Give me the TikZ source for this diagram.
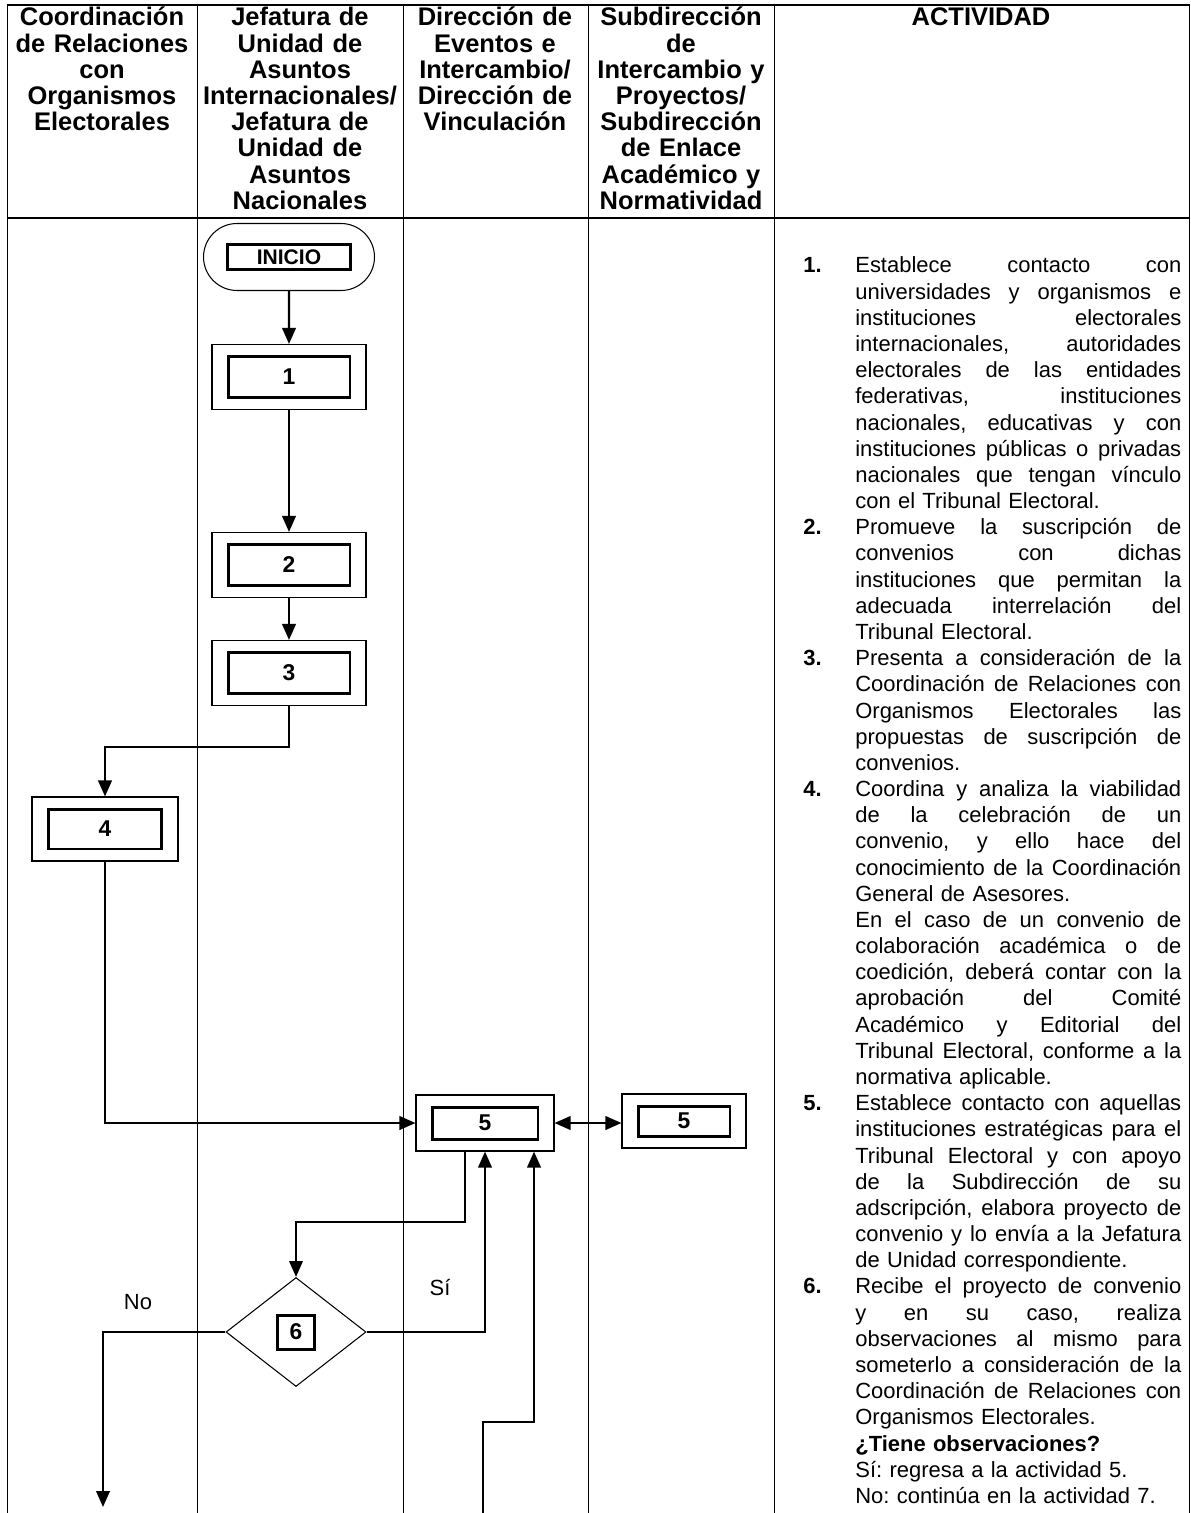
\documentclass[tikz,border=0pt]{standalone}
\usepackage{fontspec}
\setmainfont{Liberation Sans}
\usetikzlibrary{arrows.meta,positioning,calc,shapes.geometric,shapes.misc}

\newlength{\numw}\setlength{\numw}{1.04cm}
\newlength{\txtw}\setlength{\txtw}{6.52cm}
% spread the words of one line over the full text width
\def\sprx#1 #2\sprend{#1\if\relax\detokenize{#2}\relax\else\space\hfill\sprx#2\sprend\fi}
% numbered line, justified line, free (last) line
\newcommand{\actn}[2]{\makebox[\numw][l]{\textbf{#1}}\hbox to\txtw{\sprx#2 \sprend}\\}
\newcommand{\actj}[1]{\hspace*{\numw}\hbox to\txtw{\sprx#1 \sprend}\\}
\newcommand{\actf}[1]{\hspace*{\numw}#1\\}

\tikzset{
  lane/.style={line width=0.5pt},
  hrule/.style={line width=0.9pt},
  head/.style={align=center, text width=4.2cm, anchor=base, inner sep=0pt,
    font=\bfseries\fontsize{14.5}{14.9}\selectfont},
  flow/.style={line width=1.3pt, -{Triangle[length=0.32cm,width=0.27cm]}},
  flowboth/.style={line width=1.3pt, {Triangle[length=0.32cm,width=0.27cm]}-{Triangle[length=0.32cm,width=0.27cm]}},
  frame in/.style 2 args={path picture={
    \draw[line width=1.7pt] ([shift={(#1,#2)}]path picture bounding box.south west)
      rectangle ([shift={(-#1,-#2)}]path picture bounding box.north east);}},
  actbox/.style={shape=rectangle, draw=black, line width=0.6pt, inner sep=0pt,
    minimum width=3.08cm, minimum height=1.30cm, frame in={0.32cm}{0.24cm},
    font=\bfseries\fontsize{13}{14}\selectfont},
  start/.style={shape=rounded rectangle, draw=black, line width=0.6pt, inner sep=0pt,
    minimum width=3.42cm, minimum height=1.34cm, frame in={0.48cm}{0.42cm},
    font=\bfseries\fontsize{12}{13}\selectfont},
  decision/.style={shape=diamond, draw=black, line width=0.6pt, inner sep=0pt,
    minimum width=2.8cm, minimum height=2.18cm,
    font=\bfseries\fontsize{13}{14}\selectfont,
    path picture={\draw[line width=1.7pt] ([shift={(-0.37cm,-0.34cm)}]path picture bounding box.center)
      rectangle ++(0.74cm,0.68cm);}},
  lbl/.style={inner sep=0pt, font=\fontsize{12.5}{14}\selectfont},
  acttext/.style={anchor=base west, align=left, text width=7.62cm, inner sep=0pt,
    font=\fontsize{12.5}{14.9}\selectfont\frenchspacing},
}

\begin{document}
\begin{tikzpicture}[x=0.02cm,y=-0.02cm]
\useasboundingbox (0,0) rectangle (1190,1513);

% table
\draw[hrule] (7,5) -- (1190,5);
\draw[hrule] (7,218) -- (1190,218);
\draw[lane] (7,5) -- (7,1513);
\draw[lane] (197,5) -- (197,1513);
\draw[lane] (403,5) -- (403,1513);
\draw[lane] (588,5) -- (588,1513);
\draw[lane] (774,5) -- (774,1513);
\draw[lane] (1189.5,5) -- (1189.5,1513);

% headers
\node[head] (h1) at (102,26) {Coordinación\\de Relaciones\\con\\Organismos\\Electorales};
\node[head] (h2) at (300,26) {Jefatura de\\Unidad de\\Asuntos\\Internacionales/\\Jefatura de\\Unidad de\\Asuntos\\Nacionales};
\node[head] (h3) at (495,26) {Dirección de\\Eventos e\\Intercambio/\\Dirección de\\Vinculación};
\node[head] (h4) at (681,26) {Subdirección\\de\\Intercambio y\\Proyectos/\\Subdirección\\de Enlace\\Académico y\\Normatividad};
\node[head] (h5) at (981,26) {ACTIVIDAD};

% flowchart
\node[start] (inicio) at (289,257) {INICIO};
\node[actbox] (a1) at (289,377) {1};
\node[actbox] (a2) at (289,565) {2};
\node[actbox] (a3) at (289,673) {3};
\node[actbox, minimum width=2.92cm, minimum height=1.28cm] (a4) at (105,829) {4};
\node[actbox, minimum width=2.76cm, minimum height=1.12cm] (a5) at (485,1123) {5};
\node[actbox, minimum width=2.48cm, minimum height=1.08cm] (a5b) at (684,1121) {5};
\node[decision] (d6) at (296,1332) {6};

\node[lbl] (no) at (138,1302) {No};
\node[lbl] (si) at (440,1288) {Sí};

\coordinate (c34) at (105,747);
\coordinate (c56) at (465,1222);
\coordinate (cno) at (103,1507);
\coordinate (cret) at (534,1422);
\coordinate (ret) at (483,1513);

\path [flow] (inicio) edge (a1);
\path [flow] (a1) edge (a2);
\path [flow] (a2) edge (a3);
\draw [flow] (a3.south) |- (c34) -- (a4.north);
\draw [flow] (a4.south) |- (a5.west);
\draw [flowboth] (a5.east) -- (a5b.west |- a5.east);
\draw [flow] (a5.south -| c56) -- (c56) -| (d6.north);
\draw [flow] (d6.east) -| (a5.south);
\draw [flow] (d6.west) -| (cno);
\draw [flow] (ret) |- (cret) -- (cret |- a5.south);

% activities
\node[acttext] (acts) at (803,273) {%
\actn{1.}{Establece contacto con}
\actj{universidades y organismos e}
\actj{instituciones electorales}
\actj{internacionales, autoridades}
\actj{electorales de las entidades}
\actj{federativas, instituciones}
\actj{nacionales, educativas y con}
\actj{instituciones públicas o privadas}
\actj{nacionales que tengan vínculo}
\actf{con el Tribunal Electoral.}
\actn{2.}{Promueve la suscripción de}
\actj{convenios con dichas}
\actj{instituciones que permitan la}
\actj{adecuada interrelación del}
\actf{Tribunal Electoral.}
\actn{3.}{Presenta a consideración de la}
\actj{Coordinación de Relaciones con}
\actj{Organismos Electorales las}
\actj{propuestas de suscripción de}
\actf{convenios.}
\actn{4.}{Coordina y analiza la viabilidad}
\actj{de la celebración de un}
\actj{convenio, y ello hace del}
\actj{conocimiento de la Coordinación}
\actf{General de Asesores.}
\actj{En el caso de un convenio de}
\actj{colaboración académica o de}
\actj{coedición, deberá contar con la}
\actj{aprobación del Comité}
\actj{Académico y Editorial del}
\actj{Tribunal Electoral, conforme a la}
\actf{normativa aplicable.}
\actn{5.}{Establece contacto con aquellas}
\actj{instituciones estratégicas para el}
\actj{Tribunal Electoral y con apoyo}
\actj{de la Subdirección de su}
\actj{adscripción, elabora proyecto de}
\actj{convenio y lo envía a la Jefatura}
\actf{de Unidad correspondiente.}
\actn{6.}{Recibe el proyecto de convenio}
\actj{y en su caso, realiza}
\actj{observaciones al mismo para}
\actj{someterlo a consideración de la}
\actj{Coordinación de Relaciones con}
\actf{Organismos Electorales.}
\actf{\textbf{¿Tiene observaciones?}}
\actf{Sí: regresa a la actividad 5.}
\hspace*{\numw}No: continúa en la actividad 7.};
\end{tikzpicture}
\end{document}
